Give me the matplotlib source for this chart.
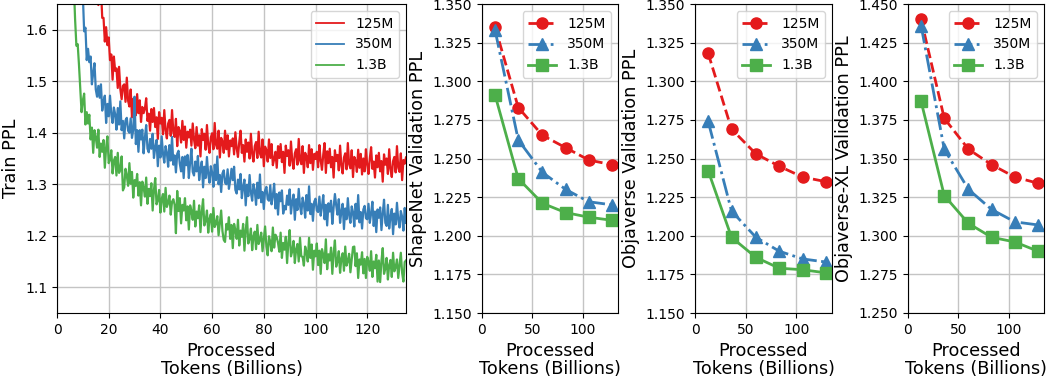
import numpy as np
import matplotlib
matplotlib.use("Agg")
import matplotlib.pyplot as plt
from matplotlib.ticker import FormatStrFormatter

labels = ["125M", "350M", "1.3B"]
colors = ["#e41a1c", "#377eb8", "#4daf4a"]

# Training curves: processed tokens (billions) sampled every 0.5B
train_step = 0.5
train_start_125m = 14.0
train_start_350m = 8.0
train_start_1_3b = 5.0

train_125m = [
    1.722, 1.682, 1.715, 1.675, 1.648, 1.668, 1.680, 1.623, 1.623, 1.577,
    1.605, 1.570, 1.585, 1.541, 1.552, 1.503, 1.548, 1.520, 1.525, 1.487,
    1.528, 1.485, 1.465, 1.491, 1.494, 1.460, 1.507, 1.462, 1.451, 1.484,
    1.430, 1.466, 1.457, 1.434, 1.475, 1.438, 1.463, 1.421, 1.450, 1.438,
    1.447, 1.467, 1.423, 1.437, 1.404, 1.446, 1.421, 1.448, 1.411, 1.430,
    1.388, 1.440, 1.418, 1.429, 1.397, 1.444, 1.405, 1.389, 1.418, 1.425,
    1.394, 1.444, 1.401, 1.392, 1.427, 1.374, 1.411, 1.403, 1.381, 1.423,
    1.386, 1.412, 1.371, 1.402, 1.391, 1.406, 1.375, 1.418, 1.387, 1.370,
    1.411, 1.375, 1.395, 1.354, 1.407, 1.386, 1.398, 1.367, 1.415, 1.376,
    1.361, 1.391, 1.399, 1.368, 1.419, 1.377, 1.369, 1.404, 1.352, 1.390,
    1.383, 1.361, 1.404, 1.368, 1.395, 1.354, 1.385, 1.374, 1.389, 1.358,
    1.401, 1.370, 1.353, 1.382, 1.404, 1.361, 1.376, 1.344, 1.387, 1.363,
    1.381, 1.350, 1.398, 1.359, 1.344, 1.374, 1.382, 1.351, 1.402, 1.360,
    1.352, 1.387, 1.335, 1.373, 1.366, 1.344, 1.387, 1.351, 1.378, 1.337,
    1.349, 1.363, 1.332, 1.374, 1.351, 1.378, 1.343, 1.363, 1.322, 1.375,
    1.355, 1.366, 1.336, 1.383, 1.345, 1.330, 1.360, 1.368, 1.338, 1.388,
    1.347, 1.339, 1.374, 1.322, 1.361, 1.354, 1.333, 1.376, 1.341, 1.368,
    1.328, 1.359, 1.349, 1.363, 1.333, 1.376, 1.346, 1.328, 1.358, 1.380,
    1.322, 1.364, 1.341, 1.369, 1.333, 1.353, 1.313, 1.366, 1.345, 1.357,
    1.327, 1.375, 1.336, 1.321, 1.352, 1.360, 1.329, 1.380, 1.339, 1.331,
    1.366, 1.314, 1.353, 1.346, 1.324, 1.367, 1.332, 1.359, 1.319, 1.350,
    1.325, 1.368, 1.338, 1.320, 1.350, 1.372, 1.330, 1.344, 1.313, 1.356,
    1.333, 1.361, 1.325, 1.345, 1.305, 1.358, 1.338, 1.350, 1.320, 1.368,
    1.330, 1.314, 1.345, 1.353, 1.323, 1.374, 1.332, 1.324, 1.360, 1.308,
    1.347, 1.340, 1.352,
]

train_350m = [
    1.712, 1.722, 1.666, 1.664, 1.667, 1.597, 1.604, 1.541, 1.563, 1.537,
    1.548, 1.494, 1.516, 1.535, 1.484, 1.470, 1.491, 1.468, 1.494, 1.443,
    1.461, 1.472, 1.419, 1.456, 1.432, 1.472, 1.436, 1.419, 1.449, 1.436,
    1.406, 1.448, 1.416, 1.461, 1.405, 1.423, 1.389, 1.424, 1.429, 1.404,
    1.400, 1.428, 1.390, 1.406, 1.470, 1.378, 1.405, 1.363, 1.405, 1.387,
    1.406, 1.360, 1.390, 1.415, 1.369, 1.362, 1.388, 1.369, 1.398, 1.351,
    1.372, 1.386, 1.335, 1.375, 1.352, 1.393, 1.359, 1.342, 1.374, 1.362,
    1.334, 1.376, 1.346, 1.392, 1.338, 1.356, 1.323, 1.359, 1.365, 1.340,
    1.325, 1.353, 1.312, 1.354, 1.337, 1.357, 1.312, 1.343, 1.369, 1.324,
    1.317, 1.344, 1.325, 1.355, 1.308, 1.330, 1.344, 1.294, 1.334, 1.312,
    1.353, 1.319, 1.303, 1.335, 1.323, 1.295, 1.338, 1.308, 1.354, 1.300,
    1.318, 1.285, 1.321, 1.327, 1.303, 1.300, 1.329, 1.291, 1.308, 1.330,
    1.308, 1.334, 1.289, 1.282, 1.309, 1.290, 1.320, 1.273, 1.295, 1.309,
    1.259, 1.299, 1.277, 1.318, 1.284, 1.268, 1.300, 1.288, 1.260, 1.303,
    1.273, 1.319, 1.265, 1.285, 1.252, 1.288, 1.295, 1.271, 1.268, 1.298,
    1.261, 1.278, 1.301, 1.253, 1.281, 1.241, 1.284, 1.267, 1.288, 1.243,
    1.258, 1.251, 1.278, 1.260, 1.290, 1.243, 1.266, 1.280, 1.231, 1.271,
    1.250, 1.291, 1.258, 1.242, 1.274, 1.263, 1.235, 1.279, 1.249, 1.296,
    1.242, 1.262, 1.229, 1.266, 1.272, 1.249, 1.246, 1.276, 1.239, 1.257,
    1.279, 1.232, 1.260, 1.220, 1.263, 1.247, 1.268, 1.223, 1.255, 1.281,
    1.259, 1.241, 1.271, 1.225, 1.247, 1.262, 1.213, 1.253, 1.232, 1.273,
    1.240, 1.225, 1.257, 1.246, 1.218, 1.262, 1.233, 1.279, 1.226, 1.246,
    1.214, 1.251, 1.258, 1.234, 1.232, 1.262, 1.225, 1.243, 1.266, 1.219,
    1.247, 1.207, 1.251, 1.235, 1.255, 1.211, 1.243, 1.270, 1.225, 1.219,
    1.260, 1.214, 1.237, 1.252, 1.203, 1.243, 1.222, 1.264, 1.231, 1.216,
    1.248, 1.237, 1.210, 1.254, 1.225,
]

train_1_3b = [
    1.775, 1.704, 1.695, 1.689, 1.620, 1.569, 1.572, 1.532, 1.484, 1.440,
    1.463, 1.476, 1.416, 1.440, 1.418, 1.435, 1.387, 1.410, 1.361, 1.405,
    1.391, 1.371, 1.406, 1.353, 1.379, 1.363, 1.386, 1.332, 1.371, 1.393,
    1.341, 1.348, 1.366, 1.321, 1.346, 1.353, 1.317, 1.361, 1.322, 1.328,
    1.354, 1.288, 1.294, 1.330, 1.317, 1.297, 1.341, 1.301, 1.324, 1.274,
    1.308, 1.297, 1.320, 1.278, 1.304, 1.259, 1.305, 1.294, 1.276, 1.313,
    1.262, 1.291, 1.277, 1.302, 1.249, 1.289, 1.312, 1.261, 1.269, 1.289,
    1.245, 1.272, 1.281, 1.247, 1.293, 1.256, 1.264, 1.278, 1.241, 1.266,
    1.271, 1.260, 1.205, 1.287, 1.248, 1.273, 1.224, 1.260, 1.249, 1.273,
    1.230, 1.257, 1.212, 1.259, 1.248, 1.231, 1.268, 1.218, 1.247, 1.234,
    1.259, 1.207, 1.247, 1.271, 1.220, 1.229, 1.249, 1.206, 1.233, 1.242,
    1.208, 1.254, 1.217, 1.224, 1.238, 1.201, 1.226, 1.249, 1.209, 1.192,
    1.188, 1.223, 1.212, 1.236, 1.194, 1.221, 1.176, 1.223, 1.211, 1.194,
    1.231, 1.181, 1.210, 1.198, 1.223, 1.171, 1.211, 1.236, 1.185, 1.194,
    1.214, 1.172, 1.199, 1.208, 1.174, 1.221, 1.184, 1.192, 1.206, 1.170,
    1.195, 1.218, 1.179, 1.162, 1.199, 1.188, 1.170, 1.216, 1.177, 1.202,
    1.197, 1.186, 1.169, 1.206, 1.157, 1.186, 1.173, 1.198, 1.147, 1.187,
    1.211, 1.160, 1.170, 1.190, 1.147, 1.174, 1.184, 1.150, 1.196, 1.160,
    1.159, 1.142, 1.179, 1.168, 1.150, 1.196, 1.157, 1.183, 1.134, 1.171,
    1.160, 1.185, 1.143, 1.171, 1.126, 1.174, 1.163, 1.147, 1.193, 1.135,
    1.164, 1.152, 1.177, 1.126, 1.166, 1.191, 1.140, 1.150, 1.170, 1.128,
    1.156, 1.166, 1.132, 1.179, 1.142, 1.151, 1.165, 1.129, 1.154, 1.178,
    1.179, 1.141, 1.166, 1.118, 1.154, 1.144, 1.168, 1.127, 1.155, 1.118,
    1.159, 1.149, 1.132, 1.170, 1.120, 1.150, 1.137, 1.163, 1.111, 1.152,
    1.110, 1.151, 1.176, 1.126, 1.136, 1.157, 1.115, 1.143, 1.153, 1.120,
    1.167, 1.131, 1.139, 1.154, 1.118, 1.143, 1.167, 1.128, 1.111, 1.149,
    1.152,
]

# Validation checkpoints (billions of tokens)
val_x = [13, 36, 60, 83, 106, 129]
shapenet_125m = [1.335, 1.283, 1.265, 1.257, 1.249, 1.246]
shapenet_350m = [1.333, 1.262, 1.241, 1.230, 1.222, 1.220]
shapenet_1_3b = [1.291, 1.237, 1.221, 1.215, 1.212, 1.210]
objaverse_125m = [1.318, 1.269, 1.253, 1.245, 1.238, 1.235]
objaverse_350m = [1.274, 1.216, 1.199, 1.190, 1.185, 1.183]
objaverse_1_3b = [1.242, 1.199, 1.186, 1.179, 1.178, 1.176]
objxl_125m = [1.440, 1.376, 1.356, 1.346, 1.338, 1.334]
objxl_350m = [1.436, 1.356, 1.330, 1.317, 1.309, 1.307]
objxl_1_3b = [1.387, 1.326, 1.308, 1.299, 1.296, 1.290]

W, H = 1056, 379
fig = plt.figure(figsize=(W / 100, H / 100), dpi=100)


def rect(l, r, t, b):
    return [l / W, 1 - b / H, (r - l) / W, (b - t) / H]


TICK = 10
LAB = 12.7
GRID = "#c4c4c4"

ax1 = fig.add_axes(rect(57, 406, 4, 313))
for start, y, c, l in zip([train_start_125m, train_start_350m, train_start_1_3b],
                          [train_125m, train_350m, train_1_3b], colors, labels):
    x = start + train_step * np.arange(len(y))
    ax1.plot(x, y, color=c, lw=1.6, label=l)
ax1.set_xlim(0, 135)
ax1.set_ylim(1.05, 1.65)
ax1.set_yticks([1.1, 1.2, 1.3, 1.4, 1.5, 1.6])
ax1.set_xticks([0, 20, 40, 60, 80, 100, 120])
ax1.grid(True, color=GRID, lw=1.0)
ax1.set_axisbelow(True)
ax1.set_ylabel("Train PPL", fontsize=LAB)
ax1.set_xlabel("Processed\nTokens (Billions)", fontsize=LAB, linespacing=1.0)
ax1.tick_params(labelsize=TICK)
leg = ax1.legend(loc="upper right", fontsize=TICK)
for h in leg.get_lines():
    h.set_linewidth(1.3)

styles = [("--", "o"), ("-.", "^"), ("-", "s")]
panels = [
    (rect(482, 618, 4, 313), [shapenet_125m, shapenet_350m, shapenet_1_3b], (1.15, 1.35), "ShapeNet Validation PPL"),
    (rect(695, 832, 4, 313), [objaverse_125m, objaverse_350m, objaverse_1_3b], (1.15, 1.35), "Objaverse Validation PPL"),
    (rect(908, 1044, 4, 313), [objxl_125m, objxl_350m, objxl_1_3b], (1.25, 1.45), "Objaverse-XL Validation PPL"),
]
for r, series, ylim, ylabel in panels:
    ax = fig.add_axes(r)
    for y, c, l, (ls, mk) in zip(series, colors, labels, styles):
        ax.plot(val_x, y, color=c, ls=ls, marker=mk, lw=2, ms=8, label=l)
    ax.set_xlim(0, 135)
    ax.set_ylim(*ylim)
    ax.set_yticks(np.arange(ylim[0], ylim[1] + 0.001, 0.025))
    ax.yaxis.set_major_formatter(FormatStrFormatter("%.3f"))
    ax.set_xticks([0, 50, 100])
    ax.grid(True, color=GRID, lw=1.0)
    ax.set_axisbelow(True)
    ax.set_ylabel(ylabel, fontsize=LAB)
    ax.set_xlabel("Processed\nTokens (Billions)", fontsize=LAB, linespacing=1.0)
    ax.tick_params(labelsize=TICK)
    ax.legend(loc="upper right", fontsize=TICK)

fig.savefig("out.png", dpi=100)
